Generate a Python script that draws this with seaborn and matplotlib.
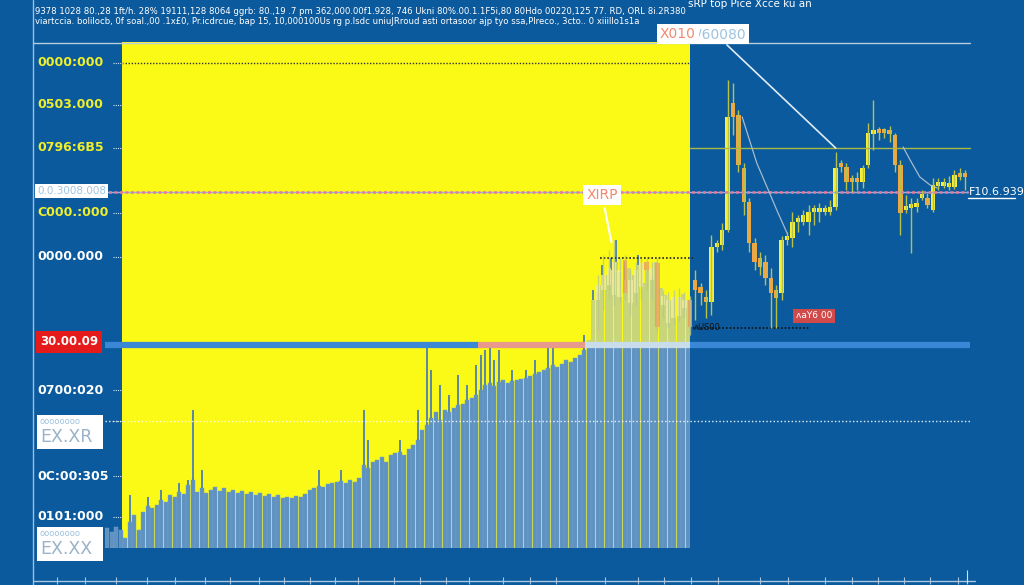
import numpy as np
import pandas as pd
import matplotlib
matplotlib.use("Agg")
import matplotlib.pyplot as plt
import matplotlib.transforms as mtransforms
from matplotlib.patches import Rectangle
import seaborn as sns

sns.set_style("dark")
plt.rcParams['font.family'] = ['DejaVu Sans']

# ---------------- data ----------------
candle_open = [28.5, 29.5, 30.0, 29.0, 28.8, 32.5, 28.2, 29.2, 29.8, 32.3, 30.5, 32.2, 28.0, 26.2, 26.7, 26.9, 27.7, 28.5,
               30.5, 29.8, 28.8, 28.3, 33.8, 34.0, 35.5, 48.2, 47.0, 41.7, 38.3, 34.2, 32.7, 32.3, 30.7, 29.5, 29.2, 34.5,
               34.7, 36.3, 36.3, 36.3, 37.3, 37.3, 37.3, 37.3, 37.8, 42.2, 41.8, 40.5, 40.7, 40.3, 42.0, 45.1, 45.5, 45.5,
               45.5, 45.0, 42.0, 37.5, 37.7, 37.8, 38.7, 38.7, 37.5, 39.9, 39.9, 39.8, 39.8, 41.2, 41.2]
candle_high = [31.0, 33.0, 33.5, 34.5, 32.7, 33.0, 31.5, 32.3, 32.7, 32.7, 32.3, 32.7, 29.5, 29.3, 29.5, 29.7, 29.3, 28.9,
               31.5, 30.2, 29.5, 35.0, 34.5, 36.2, 50.5, 50.2, 47.5, 42.2, 38.7, 34.7, 33.3, 33.0, 31.7, 30.0, 34.9, 35.3,
               37.3, 37.0, 37.5, 38.0, 38.0, 38.2, 38.0, 38.5, 43.3, 42.5, 42.2, 41.0, 41.3, 42.0, 46.2, 48.5, 45.8, 45.7,
               45.9, 45.2, 42.5, 39.0, 38.7, 38.7, 39.5, 39.2, 40.7, 40.7, 40.7, 40.9, 41.5, 41.7, 41.5]
candle_low = [25.5, 27.5, 28.5, 28.0, 28.3, 28.5, 27.0, 28.0, 28.5, 29.5, 28.5, 25.3, 26.7, 25.7, 26.0, 26.3, 26.7, 25.0,
              26.5, 28.0, 26.7, 27.0, 33.3, 33.5, 35.3, 45.0, 41.3, 37.0, 33.3, 31.5, 31.0, 30.0, 25.7, 25.7, 28.5, 34.0,
              33.8, 35.3, 36.0, 35.0, 36.0, 36.3, 37.0, 37.0, 37.5, 41.3, 39.5, 39.3, 39.5, 39.7, 41.7, 43.5, 44.5, 44.7,
              44.3, 41.3, 35.0, 37.2, 33.2, 37.3, 38.5, 37.7, 37.3, 39.5, 39.7, 39.5, 39.6, 40.5, 39.5]
candle_close = [30.0, 31.0, 31.7, 32.3, 31.5, 29.2, 30.5, 31.5, 32.2, 31.5, 31.7, 25.8, 28.9, 28.5, 28.8, 28.8, 28.5, 25.8,
                29.5, 29.2, 28.3, 33.8, 34.2, 35.5, 46.8, 46.8, 42.0, 38.3, 34.2, 32.3, 31.8, 30.7, 29.2, 28.7, 34.5, 34.7,
                36.3, 36.5, 37.0, 37.3, 37.4, 37.4, 37.5, 37.8, 41.7, 41.8, 40.3, 40.3, 40.3, 41.7, 45.2, 45.4, 45.2, 45.2,
                45.1, 42.0, 37.2, 37.8, 37.9, 38.0, 39.1, 38.0, 40.0, 40.0, 40.1, 40.0, 41.0, 40.8, 40.8]

volume = [2.0, 1.6, 2.1, 1.8, 1.0, 2.6, 3.3, 1.8, 3.6, 4.2, 4.0, 4.3, 4.8, 4.6, 5.3, 5.1, 5.6, 5.4, 6.3, 6.8,
          5.6, 6.0, 5.5, 5.8, 6.1, 5.7, 6.0, 5.6, 5.8, 5.5, 5.7, 5.4, 5.6, 5.3, 5.5, 5.2, 5.4, 5.1, 5.3, 5.0,
          5.1, 5.0, 5.2, 5.1, 5.4, 5.8, 6.0, 6.2, 6.1, 6.4, 6.5, 6.6, 6.7, 6.5, 6.8, 6.6, 7.0, 8.3, 8.0, 8.6,
          8.8, 9.1, 8.6, 9.3, 9.5, 9.6, 9.3, 9.9, 10.3, 10.8, 11.8, 12.3, 13.0, 13.6, 12.8, 13.8, 13.6, 14.0, 14.3, 14.4,
          14.8, 15.0, 15.3, 15.8, 16.3, 16.5, 16.2, 16.6, 16.8, 16.5, 16.7, 16.8, 16.9, 17.0, 17.2, 17.4, 17.6, 17.8, 18.0, 18.3,
          18.1, 18.4, 18.8, 18.6, 19.0, 19.3, 19.8, 20.8, 24.8, 25.6, 26.3, 27.3, 27.8, 28.6, 27.6, 26.8, 28.0, 27.3, 28.3, 26.5,
          27.8, 27.3, 28.6, 26.0, 25.3, 24.8, 25.0, 25.1, 25.4, 24.8]
spike_idx = [5, 9, 12, 16, 18, 19, 21, 47, 52, 57, 58, 65, 69, 71, 72, 74, 76, 78, 80, 82, 83, 84, 85, 86, 87, 90,
             93, 95, 98, 99, 106, 108, 110, 112, 113, 115, 118]
spike_high = [5.3, 5.1, 5.8, 6.5, 6.8, 13.8, 7.8, 7.8, 7.8, 13.8, 10.8, 10.8, 13.8, 20.3, 17.8, 16.3, 15.3, 17.3, 16.3,
              18.3, 19.3, 19.8, 20.3, 18.8, 19.8, 17.8, 17.8, 18.8, 20.3, 20.3, 21.3, 25.8, 28.3, 29.0, 30.8, 28.6, 29.3]

ma_a_slot = [26.7, 29.4, 31.3, 33.1, 35.0]
ma_a_val = [46.8, 42.2, 39.8, 37.5, 35.2]
ma_b_slot = [56.5, 57.8, 59.6, 61.5, 62.8]
ma_b_val = [43.8, 42.5, 40.8, 40.0, 39.7]

ytick_values = [52.2, 48.0, 43.7, 37.2, 32.8, 19.5, 10.9, 6.8]
ytick_labels = ["0000:000", "0503.000", "0796:6B5", "C000.:000", "0000.000", "0700:020", "0C:00:305", "0101:000"]
ytick_colors = ["#f0ef2a", "#f0ef2a", "#f0ef2a", "#f0ef2a", "white", "white", "white", "white"]

xtick_slots = [-100.2, -95.0, -89.3, -83.5, -78.3, -72.8, -68.1, -62.8, -58.1, -53.3, -48.7, -44.4, -37.8, -33.0,
               -28.1, -23.9, -17.6, -12.6, -7.8, 1.3, 7.4, 12.2, 17.2, 22.2, 30.0, 35.2, 42.0, 47.0, 51.9, 56.7,
               61.5, 66.7, 68.3]

title_line1 = ("9378 1028 80.,28 1ft/h. 28% 19111,128 8064 ggrb: 80.,19 .7 pm 362,000.00f1.928, 746 Ukni 80%.00.1.1F5i,80 "
               "80Hdo 00220,125 77. RD, ORL 8i.2R380")
title_line2 = ("viartccia. bolilocb, 0f soal.,00 .1x£0, Pr.icdrcue, bap 15, 10,000100Us rg p.lsdc uniuJRroud asti "
               "ortasoor ajp tyo ssa,Plreco., 3cto.. 0 xiiillo1s1a")
corner_title = "sRP top Pice Xcce ku an"
box_labels = ["EX.XR", "EX.XX"]
box_levels = [15.2, 4.0]

# ---------------- style ----------------
BG = "#0b5a9d"
YELLOW = "#fbfa16"
UP = "#f4f03a"
DOWN = "#f5a445"
WICK = "#b7c24a"
BAND = 20.3     # volume level equal to the band line
W, H = 1024, 585
XL = (-598 / 5.4, (W - 598) / 5.4)
YL = (0, 58.5)

fig = plt.figure(figsize=(10.24, 5.85), dpi=100, facecolor=BG)

ax_bg = fig.add_axes([0, 0, 1, 1], zorder=0)
ax_vol = fig.add_axes([105 / W, 37 / H, 585 / W, 506 / H], zorder=1)
ax = fig.add_axes([0, 0, 1, 1], zorder=2)
for a in (ax_bg, ax):
    a.set_xlim(*XL)
    a.set_ylim(*YL)
    a.axis("off")
    a.patch.set_alpha(0)

# background layer
ax_bg.axhspan(3.7, 54.3, xmin=122 / W, xmax=690 / W, color=YELLOW, lw=0)
ax_bg.axhline(54.2, xmin=33 / W, xmax=970 / W, color="#b8cde0", lw=1)

# volume bars (seaborn)
n = len(volume)
dfv = pd.DataFrame({"k": np.arange(n), "vol": volume})
dfv["low"] = np.minimum(dfv["vol"], BAND)
sns.barplot(data=dfv, x="k", y="vol", color="#9fb9cc", alpha=0.55, width=0.92, saturation=1,
            errorbar=None, ax=ax_vol, linewidth=0)
sns.barplot(data=dfv, x="k", y="low", color="#5f92c0", width=0.95, saturation=1,
            errorbar=None, ax=ax_vol, edgecolor="#74a2cb", linewidth=0.3)
ax_vol.vlines(spike_idx, [volume[i] for i in spike_idx], spike_high, color="#4c7fb3", lw=1.3)
ax_vol.set_xlim(-0.5, n - 0.5)
ax_vol.set_ylim(0, 50.6)
ax_vol.axis("off")
ax_vol.patch.set_alpha(0)

# horizontal lines
band_segments = [(105, 478, "#3a87d6"), (478, 585, "#e79a8c"), (585, 690, "#c9dcec"), (690, 970, "#3a87d6")]
for x0, x1, c in band_segments:
    ax.axhline(24.0, xmin=x0 / W, xmax=x1 / W, color=c, lw=4.5, solid_capstyle="butt")
ax.axhline(39.3, xmin=103 / W, xmax=968 / W, color="#8fb5e6", lw=1.0)
ax.axhline(39.3, xmin=103 / W, xmax=968 / W, color="#e47a9c", lw=1.8, ls=(0, (1.2, 1.0)))
ax.axhline(16.4, xmin=105 / W, xmax=970 / W, color="white", lw=1, ls=(0, (1, 1.6)), alpha=0.9)
ax.axhline(52.2, xmin=122 / W, xmax=690 / W, color="#333333", lw=1, ls=(0, (1, 1.2)))
ax.axhline(43.7, xmin=690 / W, xmax=970 / W, color="#a9b845", lw=1)
ax.axhline(32.7, xmin=600 / W, xmax=693 / W, color="#222222", lw=1.2, ls=(0, (1, 1.2)))
ax.axhline(25.7, xmin=693 / W, xmax=810 / W, color="#111111", lw=1.2, ls=(0, (1, 1.2)))

# moving-average like curves
ax.plot(ma_a_slot, ma_a_val, color="#b8c4d0", lw=0.9, alpha=0.9)
ax.plot(ma_b_slot, ma_b_val, color="#b8c4d0", lw=0.9, alpha=0.9)

# candles
for i, (o, h, l, c) in enumerate(zip(candle_open, candle_high, candle_low, candle_close)):
    inside = i < 18
    up = c >= o
    col = ("#f3eea0" if up else "#f09a5a") if inside else (UP if up else DOWN)
    alpha = 0.8 if inside else 1.0
    ax.vlines(i, l, h, color="#b8c890" if inside else WICK, lw=1, alpha=alpha)
    bottom = min(o, c)
    height = max(abs(c - o), 0.4)
    ax.bar(i, height, bottom=bottom, width=0.85, color=col, alpha=alpha, lw=0)

# frame lines
bt = mtransforms.blended_transform_factory(ax.transAxes, ax.transData)
ax.plot([33 / W, 33 / W], [0, 1], transform=ax.transAxes, color="#9cc0e4", lw=1)
ax.plot([34 / W, 975 / W], [0.4, 0.4], transform=bt, color="#a9c6e2", lw=1)
ax.vlines(xtick_slots, 0.15, 0.85, color="#a9c6e2", lw=0.8)
ax.vlines(68.3, 0.2, 1.5, color="#d0e0f0", lw=0.8)

# left labels
for v, lab, c in zip(ytick_values, ytick_labels, ytick_colors):
    ax.text(37 / W, v, lab, transform=bt, color=c, fontsize=9, fontweight="bold", va="center", ha="left")
    ax.plot([113 / W, 124 / W], [v, v], transform=bt, color="#cfe0f0", lw=0.8, ls=(0, (1, 1)))
ax.plot([113 / W, 124 / W], [16.4, 16.4], transform=bt, color="#cfe0f0", lw=0.8, ls=(0, (1, 1)))

ax.text(37 / W, 39.4, "0.0.3008.008", transform=bt, color="#9ec3e0", fontsize=7.5, va="center", ha="left",
        bbox=dict(boxstyle="square,pad=0.2", fc="white", ec="none"))
ax.text(40 / W, 24.3, "30.00.09", transform=bt, color="white", fontsize=8.5, fontweight="bold", va="center",
        ha="left", bbox=dict(boxstyle="square,pad=0.35", fc="#e51a1a", ec="none"))
for yv, big in zip(box_levels, box_labels):
    ax.add_patch(Rectangle((37 / W, yv - 1.6), 66 / W, 3.4, transform=bt, fc="white", ec="none", zorder=3))
    ax.text(39 / W, yv + 1.15, "oooooooo", transform=bt, color="#9ec3e0", fontsize=6, va="center", ha="left",
            zorder=4)
    ax.text(40 / W, yv - 0.45, big, transform=bt, color="#9bb2c8", fontsize=12.5, va="center", ha="left",
            zorder=4)

# right label
ax.text(969 / W, 39.3, "F10.6.939", transform=bt, color="white", fontsize=8, va="center", ha="left")
ax.plot([968 / W, 1015 / W], [38.7, 38.7], transform=bt, color="white", lw=1)

# annotations
ax.annotate("", xy=(44.4, 43.5), xytext=(23.5, 54.2),
            arrowprops=dict(arrowstyle="-", color="#e0ecf5", lw=1.2))
ax.annotate("XIRP", xy=(2.6, 34.0), xytext=(0.74, 39.0), color="#f08a70", fontsize=10,
            ha="center", va="center", bbox=dict(boxstyle="square,pad=0.25", fc="white", ec="none"),
            arrowprops=dict(arrowstyle="-", color="white", lw=1.5))
ax.text(40.0, 26.9, "ʌaY6 00", color="white", fontsize=6.5, ha="center", va="center",
        bbox=dict(boxstyle="square,pad=0.3", fc="#d04a4a", ec="none"))
ax.text(17.8, 25.7, "ʌUS00", color="#111111", fontsize=6, ha="left", va="center")

fig.text(697 / W, 1 - 34 / H, "/60080", color="#9ec3e0", fontsize=10, va="center", ha="left",
         bbox=dict(boxstyle="square,pad=0.25", fc="white", ec="none"))
fig.text(660 / W, 1 - 34 / H, "X010", color="#f08a70", fontsize=10, va="center", ha="left",
         bbox=dict(boxstyle="square,pad=0.25", fc="white", ec="none"))

fig.text(35 / W, 1 - 12 / H, title_line1, color="white", fontsize=6.1, va="center", ha="left")
fig.text(35 / W, 1 - 22 / H, title_line2, color="white", fontsize=6.1, va="center", ha="left")
fig.text(688 / W, 1 - 4 / H, corner_title, color="white", fontsize=7.5, va="center", ha="left")

fig.savefig("out.png", dpi=100, facecolor=BG)
